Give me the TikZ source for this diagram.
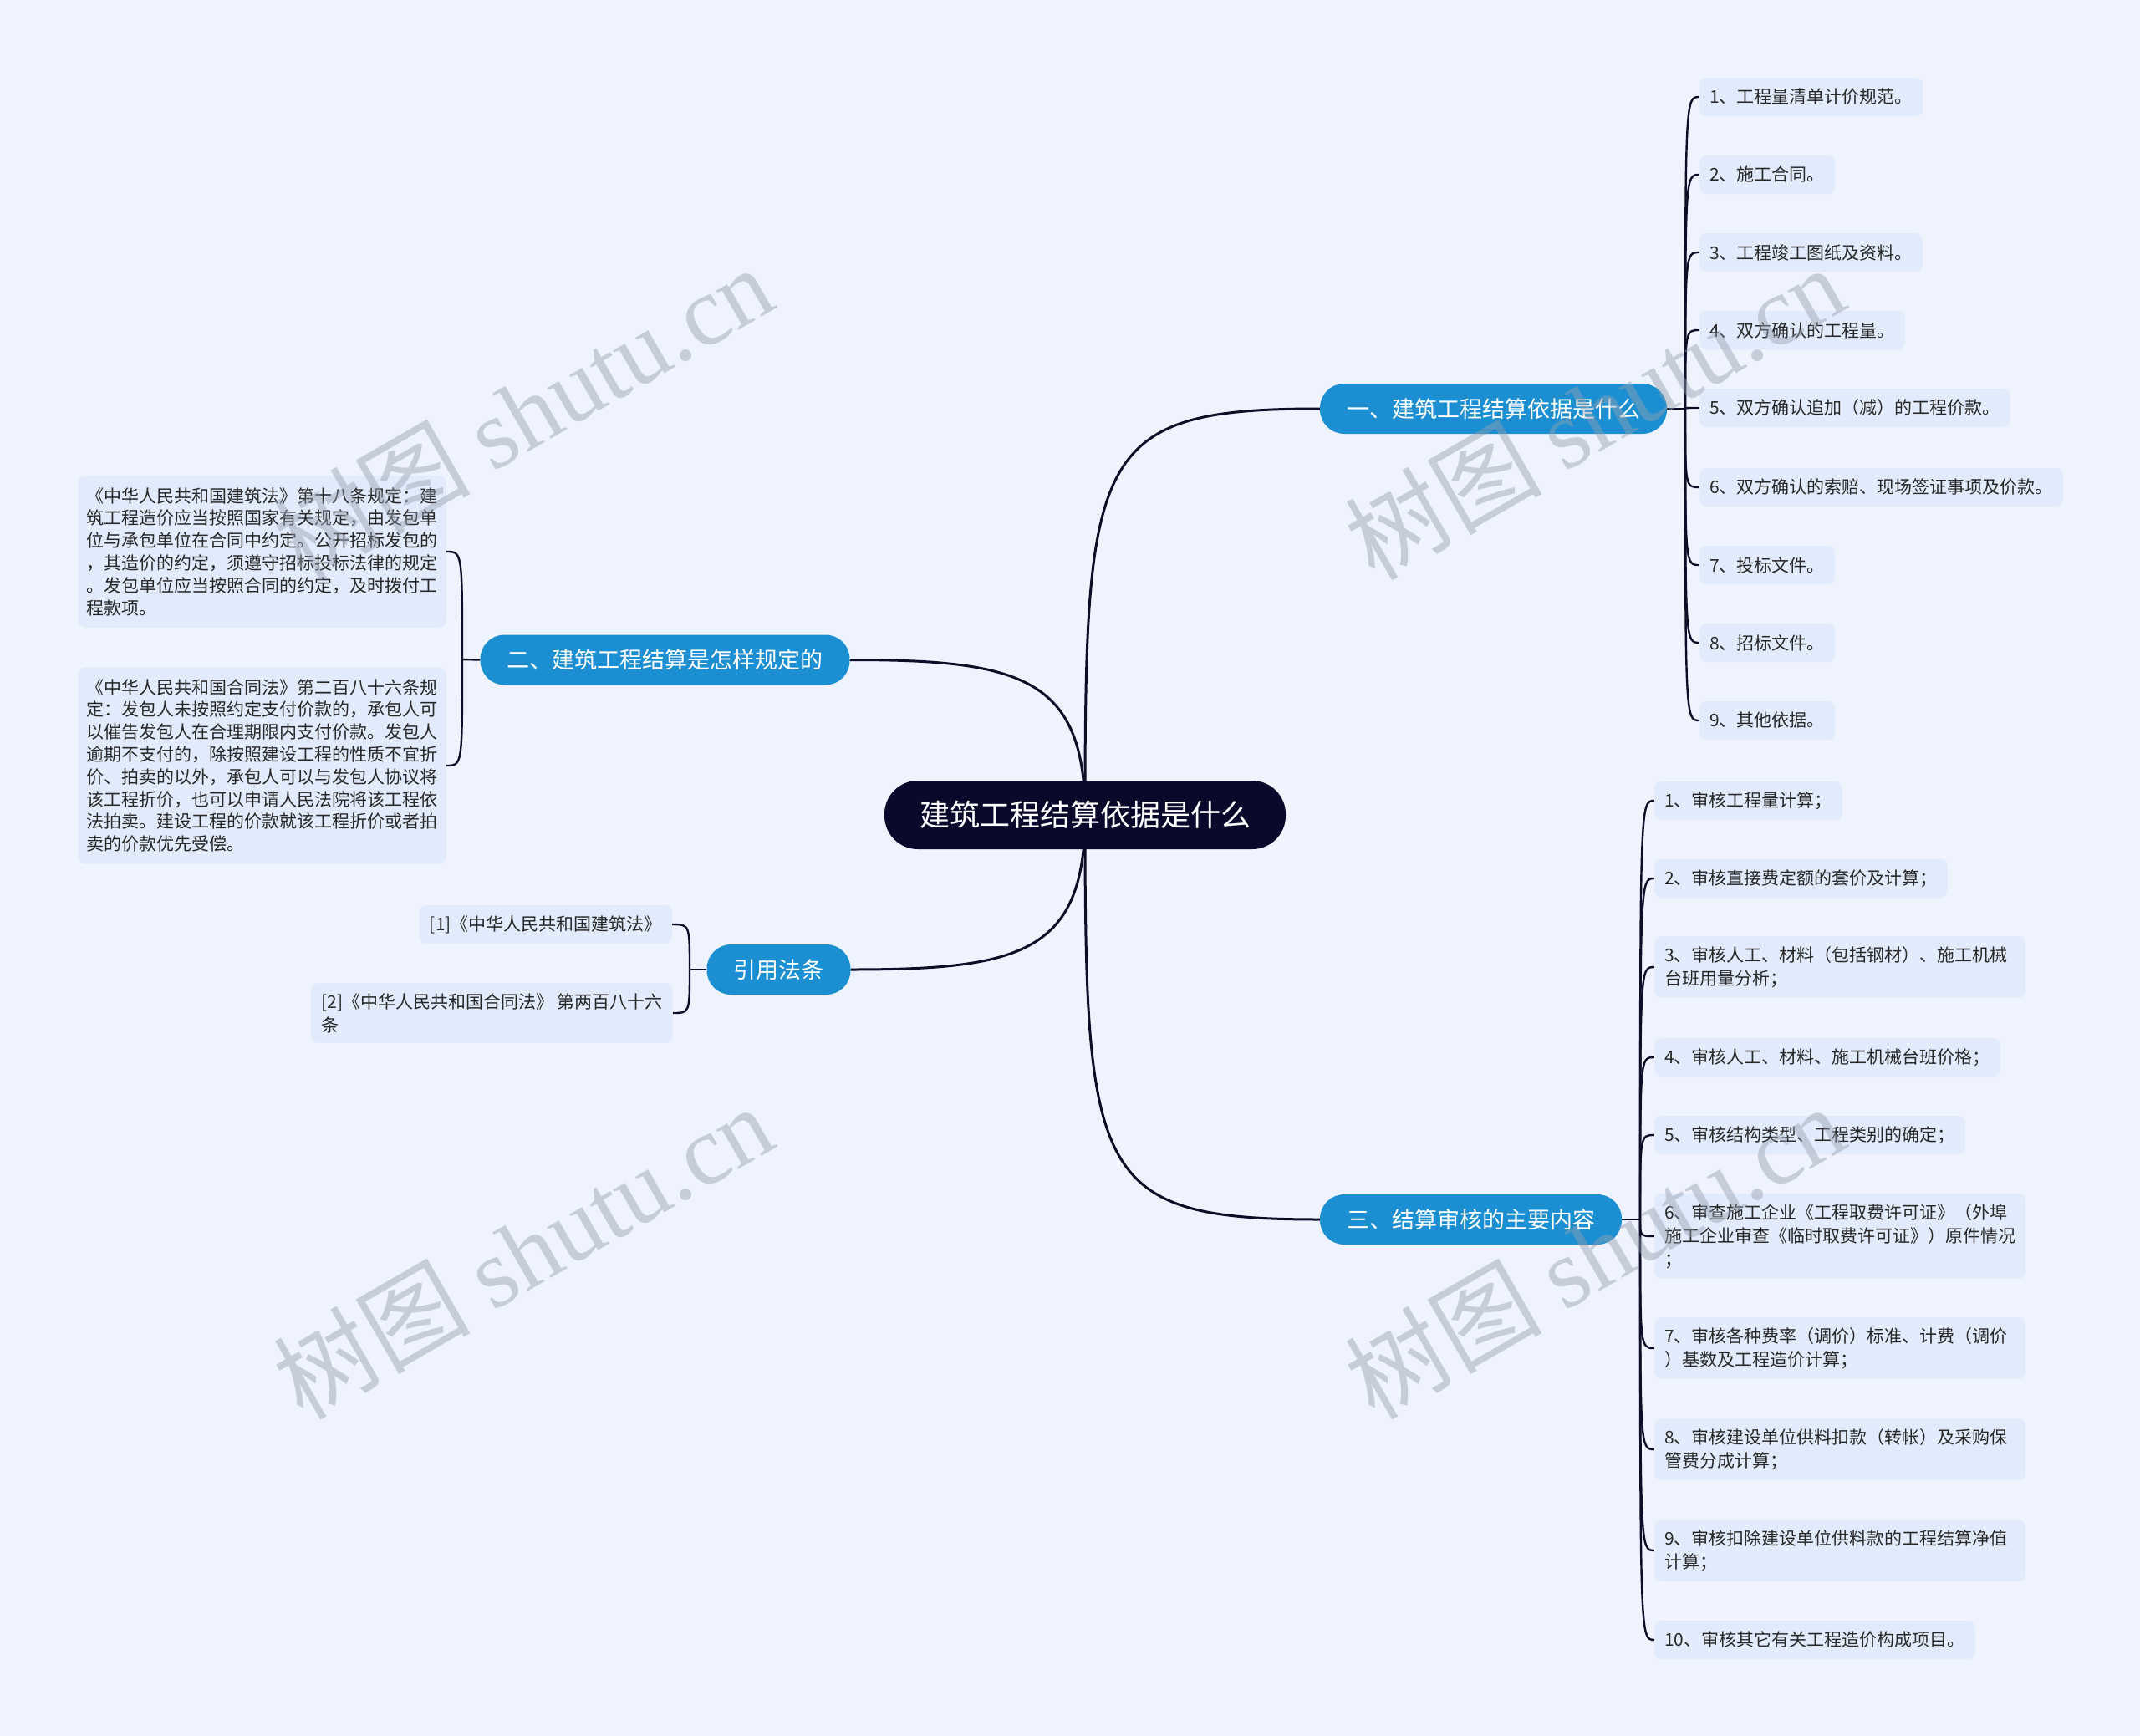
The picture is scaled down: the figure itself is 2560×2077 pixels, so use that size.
\documentclass[tikz,border=0pt]{standalone}
\usepackage{fontspec}
\setmainfont{Noto Sans CJK SC}
\newfontfamily\wmlatin{Liberation Serif}
\definecolor{bgc}{RGB}{238,243,253}
\definecolor{leafc}{RGB}{226,235,251}
\definecolor{brc}{RGB}{27,143,210}
\definecolor{rootc}{RGB}{10,9,44}
\definecolor{linec}{RGB}{14,13,40}
\definecolor{txtc}{RGB}{40,40,40}
\definecolor{wmc}{RGB}{150,160,175}
\pgfdeclarelayer{bg}
\pgfsetlayers{bg,main}
\tikzset{
  rootnode/.style={fill=rootc, text=white, rounded corners=40pt, minimum height=82pt, inner xsep=42pt, inner ysep=0pt, font=\fontsize{36pt}{42pt}\selectfont},
  branch/.style={fill=brc, text=white, rounded corners=29pt, minimum height=60pt, inner xsep=32pt, inner ysep=0pt, font=\fontsize{27pt}{32pt}\selectfont},
  leaf/.style={fill=leafc, text=txtc, rounded corners=8pt, minimum height=46pt, inner xsep=12pt, inner ysep=12pt, align=left, font=\fontsize{21pt}{28pt}\selectfont},
  leafw/.style={leaf, text width=420pt},
  block/.style={fill=leafc, text=txtc, rounded corners=8pt, inner xsep=10pt, inner ysep=14pt, align=left, text width=420pt, font=\fontsize{21pt}{26.8pt}\selectfont},
  conn/.style={draw=linec, line width=3pt},
  sub/.style={draw=linec, line width=2.4pt},
  wm/.style={text=wmc, text opacity=0.45, rotate=30, font=\fontsize{118pt}{130pt}\selectfont}
}
\begin{document}
\begin{tikzpicture}[x=1pt, y=-1pt]
\begin{pgfonlayer}{bg}
\fill[bgc] (0,0) rectangle (2560,2077);
\end{pgfonlayer}
\useasboundingbox (0,0) rectangle (2560,2077);

% root and branches
\node[rootnode] (root) at (1298,975) {建筑工程结算依据是什么};
\node[branch] (b1) at (1786.5,489) {一、建筑工程结算依据是什么};
\node[branch] (b2) at (795.5,789.5) {二、建筑工程结算是怎样规定的};
\node[branch] (b4) at (931.5,1160) {引用法条};
\node[branch] (b3) at (1759.5,1459) {三、结算审核的主要内容};

% branch 1 leaves
\node[leaf, anchor=west] (a1) at (2033,116) {1、工程量清单计价规范。};
\node[leaf, anchor=west] (a2) at (2033,209) {2、施工合同。};
\node[leaf, anchor=west] (a3) at (2033,302) {3、工程竣工图纸及资料。};
\node[leaf, anchor=west] (a4) at (2033,395) {4、双方确认的工程量。};
\node[leaf, anchor=west] (a5) at (2033,488) {5、双方确认追加（减）的工程价款。};
\node[leaf, anchor=west] (a6) at (2033,583) {6、双方确认的索赔、现场签证事项及价款。};
\node[leaf, anchor=west] (a7) at (2033,676) {7、投标文件。};
\node[leaf, anchor=west] (a8) at (2033,769) {8、招标文件。};
\node[leaf, anchor=west] (a9) at (2033,862) {9、其他依据。};

% branch 3 leaves
\node[leaf, anchor=west] (c1) at (1979,958) {1、审核工程量计算；};
\node[leaf, anchor=west] (c2) at (1979,1051) {2、审核直接费定额的套价及计算；};
\node[leafw, anchor=west] (c3) at (1979,1157) {3、审核人工、材料（包括钢材）、施工机械\\台班用量分析；};
\node[leaf, anchor=west] (c4) at (1979,1265) {4、审核人工、材料、施工机械台班价格；};
\node[leaf, anchor=west] (c5) at (1979,1358) {5、审核结构类型、工程类别的确定；};
\node[leafw, anchor=west] (c6) at (1979,1479) {6、审查施工企业《工程取费许可证》（外埠\\施工企业审查《临时取费许可证》）原件情况\\；};
\node[leafw, anchor=west] (c7) at (1979,1613) {7、审核各种费率（调价）标准、计费（调价\\）基数及工程造价计算；};
\node[leafw, anchor=west] (c8) at (1979,1734) {8、审核建设单位供料扣款（转帐）及采购保\\管费分成计算；};
\node[leafw, anchor=west] (c9) at (1979,1855) {9、审核扣除建设单位供料款的工程结算净值\\计算；};
\node[leaf, anchor=west] (c10) at (1979,1962) {10、审核其它有关工程造价构成项目。};

% branch 2 blocks
\node[block, anchor=east] (d1) at (534,660) {《中华人民共和国建筑法》第十八条规定：建\\筑工程造价应当按照国家有关规定，由发包单\\位与承包单位在合同中约定。公开招标发包的\\，其造价的约定，须遵守招标投标法律的规定\\。发包单位应当按照合同的约定，及时拨付工\\程款项。};
\node[block, anchor=east] (d2) at (534,916) {《中华人民共和国合同法》第二百八十六条规\\定：发包人未按照约定支付价款的，承包人可\\以催告发包人在合理期限内支付价款。发包人\\逾期不支付的，除按照建设工程的性质不宜折\\价、拍卖的以外，承包人可以与发包人协议将\\该工程折价，也可以申请人民法院将该工程依\\法拍卖。建设工程的价款就该工程折价或者拍\\卖的价款优先受偿。};

% citation leaves
\node[leaf, anchor=east] (e1) at (804,1106) {[1]《中华人民共和国建筑法》};
\node[leaf, anchor=east] (e2) at (805,1212) {[2]《中华人民共和国合同法》 第两百八十六\\条};

% trunk points
\coordinate (t1) at (2016,489);
\coordinate (t3) at (1962,1459);
\coordinate (t2) at (553,789);
\coordinate (t4) at (825,1160);

\begin{pgfonlayer}{bg}
\draw[conn] (root.center) .. controls +(0,-435) and +(-270,0) .. (b1.west);
\draw[conn] (root.center) .. controls +(0,-165) and +(204,0) .. (b2.east);
\draw[conn] (root.center) .. controls +(0,165) and +(204,0) .. (b4.east);
\draw[conn] (root.center) .. controls +(0,435) and +(-270,0) .. (b3.west);

\draw[sub] (b1.east) -- (t1);
\foreach \n in {a1,a2,a3,a4,a5,a6,a7,a8,a9}
  \draw[sub] (t1) .. controls (t1 |- \n.west) .. (\n.west);
\draw[sub] (b3.east) -- (t3);
\foreach \n in {c1,c2,c3,c4,c5,c6,c7,c8,c9,c10}
  \draw[sub] (t3) .. controls (t3 |- \n.west) .. (\n.west);
\draw[sub] (b2.west) -- (t2);
\foreach \n in {d1,d2}
  \draw[sub] (t2) .. controls (t2 |- \n.east) .. (\n.east);
\draw[sub] (b4.west) -- (t4);
\foreach \n in {e1,e2}
  \draw[sub] (t4) .. controls (t4 |- \n.east) .. (\n.east);
\end{pgfonlayer}

% watermarks
\node[wm] (w1) at (625,493) {树图 {\wmlatin shutu.cn}};
\node[wm] (w2) at (1907,493) {树图 {\wmlatin shutu.cn}};
\node[wm] (w3) at (625,1497) {树图 {\wmlatin shutu.cn}};
\node[wm] (w4) at (1907,1497) {树图 {\wmlatin shutu.cn}};
\end{tikzpicture}
\end{document}
